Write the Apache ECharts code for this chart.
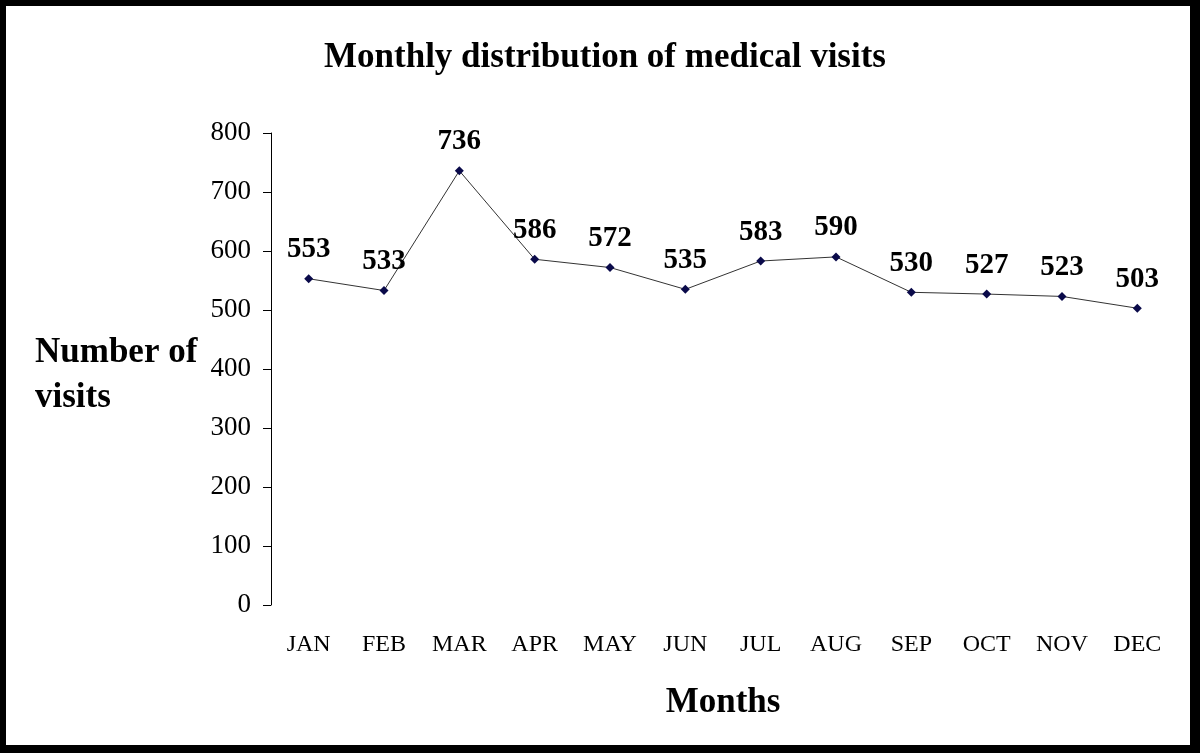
<!DOCTYPE html>
<html><head><meta charset="utf-8">
<script src="https://cdn.jsdelivr.net/npm/echarts@6/dist/echarts.min.js"></script>
<style>html,body{margin:0;padding:0;background:#fff}#c{width:1200px;height:753px}</style>
</head><body><div id="c"></div>
<script>
const months = ['JAN','FEB','MAR','APR','MAY','JUN','JUL','AUG','SEP','OCT','NOV','DEC'];
const visits = [553,533,736,586,572,535,583,590,530,527,523,503];
const yTicks = {min:0, max:800, interval:100};
const F = '"Liberation Serif","Times New Roman",serif';
const chart = echarts.init(document.getElementById('c'));
chart.setOption({
  backgroundColor:'#fff',
  animation:false,
  title:{text:'Monthly distribution of medical visits',left:600,textAlign:'center',top:35,
    textStyle:{fontFamily:F,fontSize:35,fontWeight:'bold',color:'#000'}},
  grid:{left:271,right:25,top:133,bottom:148},
  xAxis:{type:'category',data:months,boundaryGap:true,
    axisLine:{show:false},axisTick:{show:false},
    axisLabel:{fontFamily:F,fontSize:24,color:'#000',margin:28},
    name:'Months',nameLocation:'middle',nameGap:80,
    nameTextStyle:{fontFamily:F,fontSize:35,fontWeight:'bold',color:'#000'}},
  yAxis:{type:'value',min:yTicks.min,max:yTicks.max,interval:yTicks.interval,
    axisLine:{show:true,lineStyle:{color:'#000',width:1}},
    axisTick:{show:true,inside:false,length:8,lineStyle:{color:'#000'}},
    splitLine:{show:false},
    axisLabel:{fontFamily:F,fontSize:27,color:'#000',margin:20}},
  graphic:[
    {type:'rect',shape:{x:0,y:0,width:1200,height:6},style:{fill:'#000'},z:100},
    {type:'rect',shape:{x:0,y:0,width:6,height:753},style:{fill:'#000'},z:100},
    {type:'rect',shape:{x:1190,y:0,width:10,height:753},style:{fill:'#000'},z:100},
    {type:'rect',shape:{x:0,y:745,width:1200,height:8},style:{fill:'#000'},z:100},
    {type:'text',left:35,top:330,style:{text:'Number of\nvisits',fontFamily:F,fontSize:35,fontWeight:'bold',fill:'#000',lineHeight:45}}
  ],
  series:[{type:'line',data:visits,symbol:'diamond',symbolSize:9,
    lineStyle:{color:'#333',width:1},itemStyle:{color:'#0a0a4a'},
    label:{show:true,position:'top',distance:10,fontFamily:F,fontSize:29,fontWeight:'bold',color:'#000'}}]
});
</script></body></html>
